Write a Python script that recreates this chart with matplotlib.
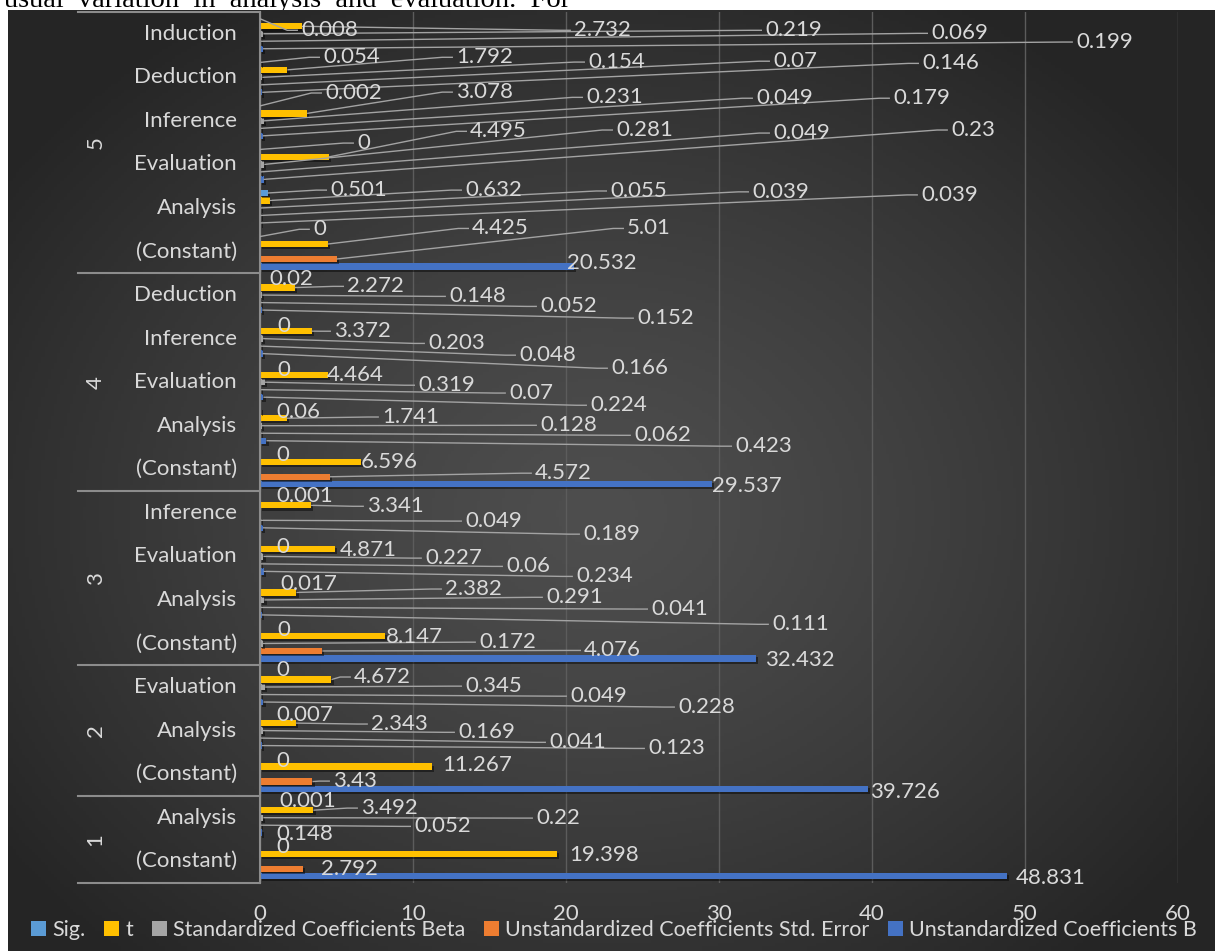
import numpy as np
import matplotlib.pyplot as plt
import matplotlib.patheffects as pe
from matplotlib.patches import Patch
from matplotlib.transforms import blended_transform_factory

nan = np.nan

# rows from the bottom of the chart upwards
models = ['1', '2', '3', '4', '5']
model_sizes = [2, 3, 4, 5, 6]
predictors = ['(Constant)', 'Analysis',
              '(Constant)', 'Analysis', 'Evaluation',
              '(Constant)', 'Analysis', 'Evaluation', 'Inference',
              '(Constant)', 'Analysis', 'Evaluation', 'Inference', 'Deduction',
              '(Constant)', 'Analysis', 'Evaluation', 'Inference', 'Deduction', 'Induction']

coef_b = [48.831, 0.148, 39.726, 0.123, 0.228, 32.432, 0.111, 0.234, 0.189, 29.537,
          0.423, 0.224, 0.166, 0.152, 20.532, 0.039, 0.23, 0.179, 0.146, 0.199]
std_err = [2.792, 0.052, 3.43, 0.041, 0.049, 4.076, 0.041, 0.06, 0.049, 4.572,
           0.062, 0.07, 0.048, 0.052, 5.01, 0.039, 0.049, 0.049, 0.07, 0.069]
beta = [nan, 0.22, nan, 0.169, 0.345, 0.172, 0.291, 0.227, nan, nan,
        0.128, 0.319, 0.203, 0.148, nan, 0.055, 0.281, 0.231, 0.154, 0.219]
t_val = [19.398, 3.492, 11.267, 2.343, 4.672, 8.147, 2.382, 4.871, 3.341, 6.596,
         1.741, 4.464, 3.372, 2.272, 4.425, 0.632, 4.495, 3.078, 1.792, 2.732]
sig = [0, 0.001, 0, 0.007, 0, 0, 0.017, 0, 0.001, 0,
       0.06, 0, 0, 0.02, 0, 0.501, 0, 0.002, 0.054, 0.008]

# where the data labels were dragged to (x in axis units, y in row units)
sig_lx = [1.05, 1.24, 1.05, 1.05, 1.05, 1.11, 1.31, 1.05, 1.05, 1.05,
          1.05, 1.11, 1.11, 0.59, 3.46, 4.58, 6.34, 4.25, 4.12, 2.68]
sig_ly = [0.32, 1.38, 2.30, 3.35, 4.39, 5.30, 6.36, 7.21, 8.38, 9.32,
          10.31, 11.27, 12.28, 13.36, 14.51, 15.41, 16.49, 17.64, 18.46, 19.08]
t_lx = [20.20, 6.60, 11.90, 7.25, 6.14, 8.24, 12.09, 5.23, 6.99, 6.60,
        7.97, 4.38, 4.84, 5.69, 13.86, 13.40, 13.73, 12.81, 12.81, 20.52]
t_ly = [0.14, 1.22, 2.20, 3.15, 4.23, 5.14, 6.25, 7.14, 8.15, 9.16,
        10.20, 11.16, 12.17, 13.20, 14.53, 15.41, 16.76, 17.66, 18.46, 19.08]
beta_lx = [nan, 18.04, nan, 12.94, 13.40, 14.31, 18.69, 10.78, nan, nan,
           18.30, 10.33, 10.98, 12.35, nan, 22.88, 23.27, 21.31, 21.44, 33.01]
beta_ly = [nan, 0.99, nan, 2.96, 4.02, 5.03, 6.06, 6.96, nan, nan,
           10.01, 10.93, 11.89, 12.97, nan, 15.39, 16.79, 17.54, 18.35, 19.08]
se_lx = [3.99, 10.07, 4.77, 18.89, 20.26, 21.18, 25.56, 16.08, 13.40, 17.97,
         24.44, 16.27, 16.93, 18.30, 23.99, 32.16, 33.53, 32.42, 33.53, 43.86]
se_ly = [-0.18, 0.80, 1.84, 2.73, 3.79, 4.84, 5.79, 6.77, 7.81, 8.91,
         9.78, 10.75, 11.62, 12.74, 14.53, 15.37, 16.72, 17.52, 18.37, 19.01]
b_lx = [49.41, 1.05, 39.87, 25.36, 27.32, 33.01, 33.46, 20.65, 21.11, 29.54,
        31.05, 21.57, 22.94, 24.64, 20.07, 43.20, 45.16, 41.37, 43.27, 53.33]
b_ly = [-0.39, 0.62, 1.58, 2.59, 3.54, 4.62, 5.44, 6.54, 7.51, 8.61,
        9.53, 10.47, 11.32, 12.47, 13.73, 15.30, 16.79, 17.52, 18.32, 18.81]

series = [  # bottom bar of each cluster first
    ('Unstandardized Coefficients B', coef_b, '#4472C4', b_lx, b_ly),
    ('Unstandardized Coefficients Std. Error', std_err, '#ED7D31', se_lx, se_ly),
    ('Standardized Coefficients Beta', beta, '#A5A5A5', beta_lx, beta_ly),
    ('t', t_val, '#FFC000', t_lx, t_ly),
    ('Sig.', sig, '#5B9BD5', sig_lx, sig_ly),
]

plt.rcParams['font.family'] = 'Lato'
txt_col = '#d9d9d9'
fs = 16

W, H = 1215, 951
fig = plt.figure(figsize=(W / 100, H / 100), dpi=100)

# line of the surrounding document, mostly hidden behind the chart
fig.text(4 / W, 1 - 7 / H, 'usual  variation  in  analysis  and  evaluation.  For',
         family='Liberation Serif', fontsize=20.5, va='baseline', color='black', zorder=-20)

# dark radial background of the chart
bg = fig.add_axes([8 / W, 0, 1 - 8 / W, (H - 10) / H], zorder=-10)
yy, xx = np.mgrid[0:300, 0:380]
r = np.hypot((xx - 185) / 230.0, (yy - 160) / 190.0)
g = 0x4e - (0x4e - 0x25) * np.clip(r, 0, 1) ** 1.3
bg.imshow(np.dstack([g, g, g]).astype(np.uint8), aspect='auto', interpolation='bilinear')
bg.axis('off')

ax = fig.add_axes([260 / W, 1 - 883 / H, 918 / W, 871 / H], zorder=1)
ax.set_facecolor('none')
ax.set_xlim(0, 60)
ax.set_ylim(-0.5, 19.5)
ax.set_xticks(np.arange(0, 61, 10))
ax.set_yticks([])
ax.grid(axis='x', color='#5c5c5c', lw=1)
ax.set_axisbelow(True)
for s in ['top', 'right', 'bottom']:
    ax.spines[s].set_visible(False)
ax.spines['left'].set_color('#8c8c8c')
ax.spines['left'].set_linewidth(1.5)
ax.tick_params(axis='x', length=0, pad=15, labelsize=fs, labelcolor=txt_col)

rows = np.arange(len(predictors))
step, bar_h = 0.172, 0.145
shadow = [pe.SimplePatchShadow(offset=(1.5, -1.5), alpha=0.45, shadow_rgbFace='k'), pe.Normal()]
px_x = 918 / 60.0   # pixels per axis unit
px_y = 871 / 20.0   # pixels per row

for k, (name, vals, col, lx, ly) in enumerate(series):
    v = np.array(vals, dtype=float)
    ypos = rows + (k - 2) * step
    ax.barh(ypos, np.nan_to_num(v), height=bar_h, color=col, zorder=2, path_effects=shadow)
    for i in rows:
        if np.isnan(v[i]) or np.isnan(lx[i]):
            continue
        dx = (lx[i] - v[i]) * px_x
        dy = (ly[i] - ypos[i]) * px_y
        if np.hypot(dx, dy) > 20:
            x_end = lx[i] - 0.2
            x_mid = max(x_end - 0.7, v[i])
            ax.plot([v[i], x_mid, x_end], [ypos[i], ly[i], ly[i]],
                    color='#a3a3a3', lw=1.0, zorder=3, solid_capstyle='butt')
        ax.text(lx[i], ly[i], f'{v[i]:g}', color=txt_col, fontsize=fs,
                ha='left', va='center', zorder=4)

# two-level category axis
tr = blended_transform_factory(ax.transAxes, ax.transData)
for i, p in enumerate(predictors):
    ax.text(-0.025, i, p, transform=tr, ha='right', va='center', color=txt_col, fontsize=fs)
bounds = np.concatenate([[0], np.cumsum(model_sizes)]) - 0.5
for b in bounds:
    ax.plot([-0.198, 0], [b, b], transform=tr, clip_on=False, color='#8c8c8c', lw=1.5)
for m, lo, hi in zip(models, bounds[:-1], bounds[1:]):
    ax.text(-0.179, (lo + hi) / 2, m, transform=tr, rotation=90, ha='center', va='center',
            color=txt_col, fontsize=fs)

handles = [Patch(facecolor=s[2]) for s in series[::-1]]
labels = [s[0] for s in series[::-1]]
fig.legend(handles, labels, loc='center', bbox_to_anchor=(614 / W, 21 / H), ncol=5,
           frameon=False, prop={'family': 'Lato', 'size': 15.5}, labelcolor=txt_col,
           handlelength=0.7, handleheight=0.7, handletextpad=0.3, columnspacing=0.85)

fig.savefig('out.png', dpi=100)
